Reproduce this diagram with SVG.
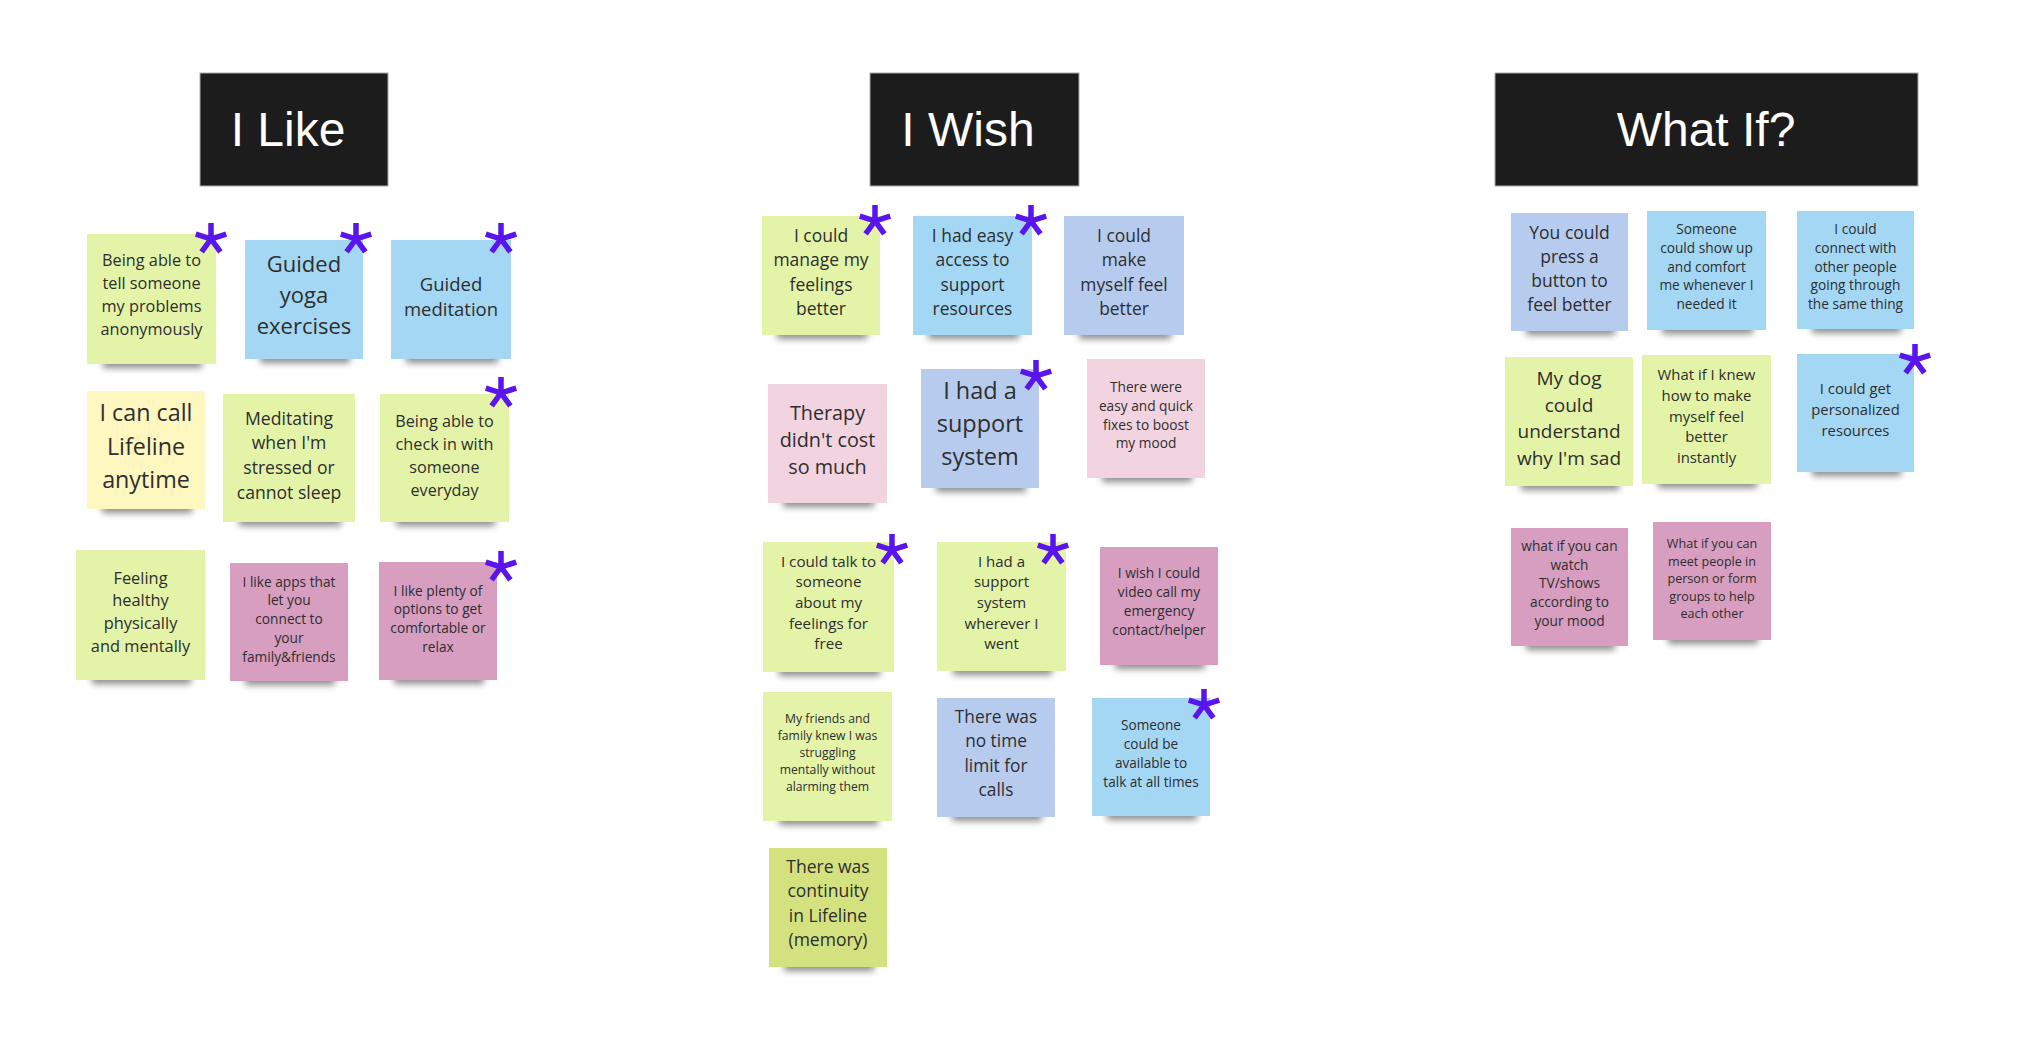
<svg xmlns="http://www.w3.org/2000/svg" xmlns:xlink="http://www.w3.org/1999/xlink" width="2042" height="1042" viewBox="0 0 2042 1042">
<style>
.hd{fill:#1c1c1c;stroke:#aaaaaa;stroke-width:1}
.ht{font-family:"Liberation Sans",Arial,sans-serif;font-size:48px;fill:#ffffff;text-anchor:middle}
.t{font-family:"Open Sans","Noto Sans",sans-serif;fill:#2e2e2e;text-anchor:middle}
.sh{fill:#000;opacity:.45;filter:url(#bl)}
.g{fill:#e3f4a9}.b{fill:#a3d7f4}.v{fill:#b6cbee}.y{fill:#fef7bf}.p{fill:#f2d3e0}.m{fill:#d79ec0}.o{fill:#d4e17f}
.star{fill:none;stroke:#5a14ee;stroke-width:5.5}
</style>
<defs>
<filter id="bl" x="-20%" y="-200%" width="140%" height="500%"><feGaussianBlur stdDeviation="3.5"/></filter>
<g id="st"><path class="star" d="M0 0V-16M0 0L15.2 -4.9M0 0L9.4 12.9M0 0L-9.4 12.9M0 0L-15.2 -4.9"/><circle r="3" fill="#5a14ee"/></g>
</defs>
<rect width="2042" height="1042" fill="#ffffff"/>

<g id="header-like"><rect class="hd" x="200" y="73" width="188" height="113"/><text class="ht" x="288" y="146">I Like</text></g>
<g id="header-wish"><rect class="hd" x="870" y="73" width="209" height="113"/><text class="ht" x="968" y="146">I Wish</text></g>
<g id="header-whatif"><rect class="hd" x="1495" y="73" width="423" height="113"/><text class="ht" x="1706" y="146">What If?</text></g>

<g id="like-1"><rect class="sh" x="103" y="354" width="99" height="14"/><rect class="g" x="87" y="234" width="129" height="130"/><text class="t" style="font-size:16.3px"><tspan x="151.5" y="266.1">Being able to</tspan><tspan x="151.5" y="289">tell someone</tspan><tspan x="151.5" y="311.9">my problems</tspan><tspan x="151.5" y="334.8">anonymously</tspan></text><use xlink:href="#st" x="211" y="239"/></g>
<g id="like-2"><rect class="sh" x="260" y="349" width="90" height="14"/><rect class="b" x="245" y="240" width="118" height="119"/><text class="t" style="font-size:22px"><tspan x="304" y="272.2">Guided</tspan><tspan x="304" y="303.2">yoga</tspan><tspan x="304" y="334.2">exercises</tspan></text><use xlink:href="#st" x="356" y="239"/></g>
<g id="like-3"><rect class="sh" x="406" y="349" width="92" height="14"/><rect class="b" x="391" y="240" width="120" height="119"/><text class="t" style="font-size:18.5px"><tspan x="451" y="290.6">Guided</tspan><tspan x="451" y="315.9">meditation</tspan></text><use xlink:href="#st" x="501" y="239"/></g>
<g id="like-4"><rect class="sh" x="102" y="499" width="90" height="14"/><rect class="y" x="87" y="391" width="118" height="118"/><text class="t" style="font-size:23.3px"><tspan x="146" y="421.2">I can call</tspan><tspan x="146" y="454.5">Lifeline</tspan><tspan x="146" y="487.8">anytime</tspan></text></g>
<g id="like-5"><rect class="sh" x="239" y="512" width="102" height="14"/><rect class="g" x="223" y="394" width="132" height="128"/><text class="t" style="font-size:17.6px"><tspan x="289" y="424.5">Meditating</tspan><tspan x="289" y="449.3">when I'm</tspan><tspan x="289" y="474.1">stressed or</tspan><tspan x="289" y="498.9">cannot sleep</tspan></text></g>
<g id="like-6"><rect class="sh" x="396" y="512" width="99" height="14"/><rect class="g" x="380" y="394" width="129" height="128"/><text class="t" style="font-size:16.2px"><tspan x="444.5" y="426.5">Being able to</tspan><tspan x="444.5" y="449.5">check in with</tspan><tspan x="444.5" y="472.5">someone</tspan><tspan x="444.5" y="495.5">everyday</tspan></text><use xlink:href="#st" x="501" y="393"/></g>
<g id="like-7"><rect class="sh" x="92" y="670" width="99" height="14"/><rect class="g" x="76" y="550" width="129" height="130"/><text class="t" style="font-size:16.4px"><tspan x="140.5" y="583.7">Feeling</tspan><tspan x="140.5" y="606.4">healthy</tspan><tspan x="140.5" y="629.1">physically</tspan><tspan x="140.5" y="651.8">and mentally</tspan></text></g>
<g id="like-8"><rect class="sh" x="245" y="671" width="90" height="14"/><rect class="m" x="230" y="563" width="118" height="118"/><text class="t" style="font-size:13.7px"><tspan x="289" y="586.5">I like apps that</tspan><tspan x="289" y="605.3">let you</tspan><tspan x="289" y="624.1">connect to</tspan><tspan x="289" y="642.9">your</tspan><tspan x="289" y="661.7">family&amp;friends</tspan></text></g>
<g id="like-9"><rect class="sh" x="394" y="670" width="90" height="14"/><rect class="m" x="379" y="562" width="118" height="118"/><text class="t" style="font-size:13.7px"><tspan x="438" y="595.5">I like plenty of</tspan><tspan x="438" y="614.3">options to get</tspan><tspan x="438" y="633.1">comfortable or</tspan><tspan x="438" y="651.9">relax</tspan></text><use xlink:href="#st" x="501" y="567"/></g>

<g id="wish-1"><rect class="sh" x="777" y="325" width="90" height="14"/><rect class="g" x="762" y="216" width="118" height="119"/><text class="t" style="font-size:17.5px"><tspan x="821" y="241.7">I could</tspan><tspan x="821" y="266.1">manage my</tspan><tspan x="821" y="290.5">feelings</tspan><tspan x="821" y="314.9">better</tspan></text><use xlink:href="#st" x="875" y="221"/></g>
<g id="wish-2"><rect class="sh" x="928" y="325" width="91" height="14"/><rect class="b" x="913" y="216" width="119" height="119"/><text class="t" style="font-size:17.4px"><tspan x="972.5" y="241.7">I had easy</tspan><tspan x="972.5" y="266.1">access to</tspan><tspan x="972.5" y="290.5">support</tspan><tspan x="972.5" y="314.9">resources</tspan></text><use xlink:href="#st" x="1031" y="221"/></g>
<g id="wish-3"><rect class="sh" x="1079" y="325" width="92" height="14"/><rect class="v" x="1064" y="216" width="120" height="119"/><text class="t" style="font-size:17.4px"><tspan x="1124" y="241.7">I could</tspan><tspan x="1124" y="266.1">make</tspan><tspan x="1124" y="290.5">myself feel</tspan><tspan x="1124" y="314.9">better</tspan></text></g>
<g id="wish-4"><rect class="sh" x="783" y="493" width="91" height="14"/><rect class="p" x="768" y="384" width="119" height="119"/><text class="t" style="font-size:19.8px"><tspan x="827.5" y="420">Therapy</tspan><tspan x="827.5" y="447.2">didn't cost</tspan><tspan x="827.5" y="474.4">so much</tspan></text></g>
<g id="wish-5"><rect class="sh" x="936" y="478" width="90" height="14"/><rect class="v" x="921" y="369" width="118" height="119"/><text class="t" style="font-size:23.5px"><tspan x="980" y="399.3">I had a</tspan><tspan x="980" y="432.1">support</tspan><tspan x="980" y="464.9">system</tspan></text><use xlink:href="#st" x="1036" y="376"/></g>
<g id="wish-6"><rect class="sh" x="1102" y="468" width="90" height="14"/><rect class="p" x="1087" y="359" width="118" height="119"/><text class="t" style="font-size:13.7px"><tspan x="1146" y="392.3">There were</tspan><tspan x="1146" y="411">easy and quick</tspan><tspan x="1146" y="429.7">fixes to boost</tspan><tspan x="1146" y="448.4">my mood</tspan></text></g>
<g id="wish-7"><rect class="sh" x="779" y="662" width="101" height="14"/><rect class="g" x="763" y="542" width="131" height="130"/><text class="t" style="font-size:15.2px"><tspan x="828.5" y="566.7">I could talk to</tspan><tspan x="828.5" y="587.3">someone</tspan><tspan x="828.5" y="607.9">about my</tspan><tspan x="828.5" y="628.5">feelings for</tspan><tspan x="828.5" y="649.1">free</tspan></text><use xlink:href="#st" x="892" y="550"/></g>
<g id="wish-8"><rect class="sh" x="953" y="661" width="99" height="14"/><rect class="g" x="937" y="542" width="129" height="129"/><text class="t" style="font-size:15px"><tspan x="1001.5" y="566.7">I had a</tspan><tspan x="1001.5" y="587.3">support</tspan><tspan x="1001.5" y="607.9">system</tspan><tspan x="1001.5" y="628.5">wherever I</tspan><tspan x="1001.5" y="649.1">went</tspan></text><use xlink:href="#st" x="1053" y="550"/></g>
<g id="wish-9"><rect class="sh" x="1115" y="655" width="90" height="14"/><rect class="m" x="1100" y="547" width="118" height="118"/><text class="t" style="font-size:13.7px"><tspan x="1159" y="578.3">I wish I could</tspan><tspan x="1159" y="597.2">video call my</tspan><tspan x="1159" y="616.1">emergency</tspan><tspan x="1159" y="635">contact/helper</tspan></text></g>
<g id="wish-10"><rect class="sh" x="779" y="811" width="99" height="14"/><rect class="g" x="763" y="692" width="129" height="129"/><text class="t" style="font-size:12.2px"><tspan x="827.5" y="722.7">My friends and</tspan><tspan x="827.5" y="739.8">family knew I was</tspan><tspan x="827.5" y="756.9">struggling</tspan><tspan x="827.5" y="774">mentally without</tspan><tspan x="827.5" y="791.1">alarming them</tspan></text></g>
<g id="wish-11"><rect class="sh" x="952" y="807" width="90" height="14"/><rect class="v" x="937" y="698" width="118" height="119"/><text class="t" style="font-size:17.3px"><tspan x="996" y="722.7">There was</tspan><tspan x="996" y="747.1">no time</tspan><tspan x="996" y="771.5">limit for</tspan><tspan x="996" y="795.9">calls</tspan></text></g>
<g id="wish-12"><rect class="sh" x="1107" y="806" width="90" height="14"/><rect class="b" x="1092" y="698" width="118" height="118"/><text class="t" style="font-size:13.6px"><tspan x="1151" y="730">Someone</tspan><tspan x="1151" y="748.9">could be</tspan><tspan x="1151" y="767.8">available to</tspan><tspan x="1151" y="786.7">talk at all times</tspan></text><use xlink:href="#st" x="1204" y="705"/></g>
<g id="wish-13"><rect class="sh" x="784" y="957" width="90" height="14"/><rect class="o" x="769" y="848" width="118" height="119"/><text class="t" style="font-size:17.5px"><tspan x="828" y="872.7">There was</tspan><tspan x="828" y="897.1">continuity</tspan><tspan x="828" y="921.5">in Lifeline</tspan><tspan x="828" y="945.9">(memory)</tspan></text></g>

<g id="whatif-1"><rect class="sh" x="1526" y="321" width="89" height="14"/><rect class="v" x="1511" y="213" width="117" height="118"/><text class="t" style="font-size:17.5px"><tspan x="1569.5" y="238.7">You could</tspan><tspan x="1569.5" y="262.9">press a</tspan><tspan x="1569.5" y="287.1">button to</tspan><tspan x="1569.5" y="311.3">feel better</tspan></text></g>
<g id="whatif-2"><rect class="sh" x="1662" y="320" width="91" height="14"/><rect class="b" x="1647" y="211" width="119" height="119"/><text class="t" style="font-size:13.7px"><tspan x="1706.5" y="234.1">Someone</tspan><tspan x="1706.5" y="252.8">could show up</tspan><tspan x="1706.5" y="271.5">and comfort</tspan><tspan x="1706.5" y="290.2">me whenever I</tspan><tspan x="1706.5" y="308.9">needed it</tspan></text></g>
<g id="whatif-3"><rect class="sh" x="1812" y="319" width="89" height="14"/><rect class="b" x="1797" y="211" width="117" height="118"/><text class="t" style="font-size:13.7px"><tspan x="1855.5" y="234.1">I could</tspan><tspan x="1855.5" y="252.8">connect with</tspan><tspan x="1855.5" y="271.5">other people</tspan><tspan x="1855.5" y="290.2">going through</tspan><tspan x="1855.5" y="308.9">the same thing</tspan></text></g>
<g id="whatif-4"><rect class="sh" x="1521" y="476" width="98" height="14"/><rect class="g" x="1505" y="357" width="128" height="129"/><text class="t" style="font-size:19px"><tspan x="1569" y="385.3">My dog</tspan><tspan x="1569" y="411.8">could</tspan><tspan x="1569" y="438.3">understand</tspan><tspan x="1569" y="464.8">why I'm sad</tspan></text></g>
<g id="whatif-5"><rect class="sh" x="1658" y="474" width="99" height="14"/><rect class="g" x="1642" y="355" width="129" height="129"/><text class="t" style="font-size:14.9px"><tspan x="1706.5" y="380.3">What if I knew</tspan><tspan x="1706.5" y="400.9">how to make</tspan><tspan x="1706.5" y="421.5">myself feel</tspan><tspan x="1706.5" y="442.1">better</tspan><tspan x="1706.5" y="462.7">instantly</tspan></text></g>
<g id="whatif-6"><rect class="sh" x="1812" y="462" width="89" height="14"/><rect class="b" x="1797" y="354" width="117" height="118"/><text class="t" style="font-size:14.8px"><tspan x="1855.5" y="394.1">I could get</tspan><tspan x="1855.5" y="415.1">personalized</tspan><tspan x="1855.5" y="436.1">resources</tspan></text><use xlink:href="#st" x="1915" y="360"/></g>
<g id="whatif-7"><rect class="sh" x="1526" y="636" width="89" height="14"/><rect class="m" x="1511" y="528" width="117" height="118"/><text class="t" style="font-size:13.7px"><tspan x="1569.5" y="551">what if you can</tspan><tspan x="1569.5" y="569.7">watch</tspan><tspan x="1569.5" y="588.4">TV/shows</tspan><tspan x="1569.5" y="607.1">according to</tspan><tspan x="1569.5" y="625.8">your mood</tspan></text></g>
<g id="whatif-8"><rect class="sh" x="1668" y="630" width="90" height="14"/><rect class="m" x="1653" y="522" width="118" height="118"/><text class="t" style="font-size:12.6px"><tspan x="1712" y="548">What if you can</tspan><tspan x="1712" y="565.5">meet people in</tspan><tspan x="1712" y="583">person or form</tspan><tspan x="1712" y="600.5">groups to help</tspan><tspan x="1712" y="618">each other</tspan></text></g>
</svg>
